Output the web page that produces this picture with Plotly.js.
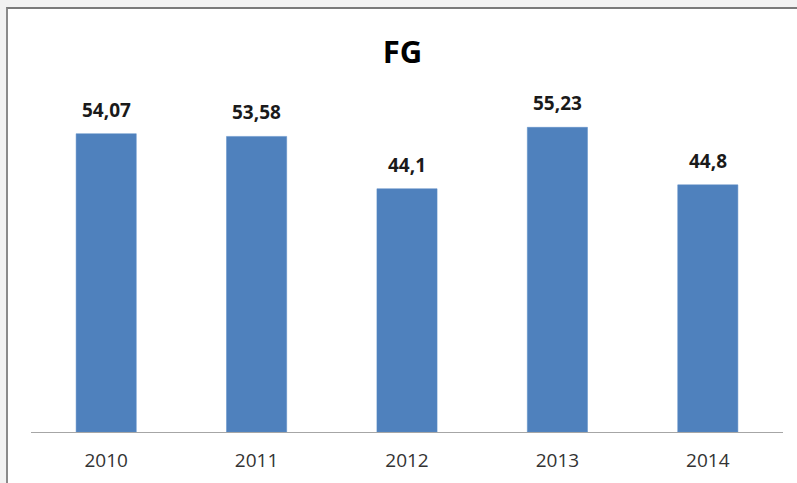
<!DOCTYPE html>
<html>
<head>
<meta charset="utf-8">
<script src="https://cdn.plot.ly/plotly-3.0.1.min.js"></script>
<style>
  html, body { margin: 0; padding: 0; width: 797px; height: 483px; overflow: hidden; background: #f2f2f2; }
  #frame { position: absolute; left: 6px; top: 7px; width: 791px; height: 476px;
           border-left: 2px solid #8a8a8a; border-top: 2px solid #7a7a7a; background: #ffffff; }
  #chart { position: absolute; left: 0; top: 0; width: 789px; height: 474px; }
</style>
</head>
<body>
<div id="frame"><div id="chart"></div></div>
<script>
const years = ['2010', '2011', '2012', '2013', '2014'];
const values = [54.07, 53.58, 44.1, 55.23, 44.8];
const labels = values.map(v => String(v).replace('.', ','));

const trace = {
  type: 'bar',
  x: years,
  y: values,
  marker: { color: '#4f81bd', line: { color: '#5b8cc6', width: 0.5 } },
  hoverinfo: 'none'
};

const annotations = years.map((yr, i) => ({
  x: i, y: values[i], xref: 'x', yref: 'y',
  text: '<b>' + labels[i] + '</b>', showarrow: false, yanchor: 'bottom', yshift: 9,
  font: { family: 'Open Sans, sans-serif', size: 19, color: '#1a1a1a' }
}));

const layout = {
  width: 789, height: 474,
  margin: { l: 23, r: 14, t: 92, b: 51, pad: 0 },
  paper_bgcolor: '#ffffff', plot_bgcolor: '#ffffff',
  title: { text: '<b>FG</b>', x: 0.5, xanchor: 'center', y: 1 - 43 / 474, yanchor: 'middle',
           font: { family: 'Open Sans, sans-serif', size: 31, color: '#000000' } },
  bargap: 0.6,
  showlegend: false,
  xaxis: {
    type: 'category', range: [-0.5, 4.5], showline: true, linecolor: '#a6a6a6', linewidth: 1,
    ticks: '', showgrid: false, zeroline: false, ticklabelstandoff: 11,
    tickfont: { family: 'Open Sans, sans-serif', size: 19, color: '#333333' }
  },
  yaxis: { range: [0, 60], visible: false, showgrid: false, zeroline: false },
  annotations: annotations
};

Plotly.newPlot('chart', [trace], layout, { displayModeBar: false, staticPlot: true });
</script>
</body>
</html>
